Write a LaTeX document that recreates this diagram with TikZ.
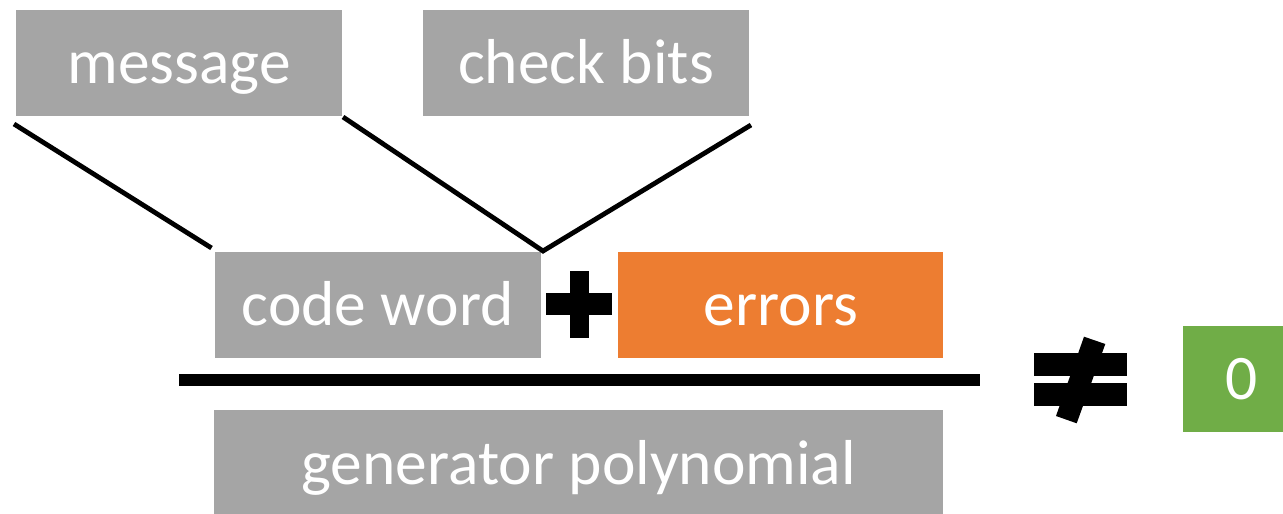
\documentclass[tikz,border=0pt]{standalone}
\usepackage{fontspec}
\setmainfont{Carlito}
\definecolor{boxgray}{HTML}{A5A5A5}
\definecolor{boxorange}{HTML}{ED7D31}
\definecolor{boxgreen}{HTML}{70AD47}
\begin{document}
\begin{tikzpicture}[x=0.75pt,y=-0.75pt,
  box/.style={rectangle, fill=boxgray, inner sep=0pt, text=white,
    font=\fontsize{47.6}{57}\selectfont,
    text height=55.5pt, text depth=24pt, align=center},
  conn/.style={line width=3.6pt, black},
  sym/.style={fill=black}]
\useasboundingbox (0,0) rectangle (1283,514);

% top boxes
\node[box, minimum width=244.5pt] (msg) at (179,62.5) {message};
\node[box, minimum width=244.5pt] (chk) at (586,62.5) {check bits};
% middle boxes
\node[box, minimum width=244.3pt] (cw) at (377.8,304.7) {code word};
\node[box, fill=boxorange, minimum width=243.8pt] (err) at (780.8,304.7) {errors};
% generator polynomial
\node[box, minimum width=546.4pt, text height=56.25pt, text depth=23.25pt] (gen) at (578.7,462.5) {generator polynomial};
% zero
\node[box, fill=boxgreen, minimum width=88pt, text height=55pt, text depth=24pt] (zero) at (1241.7,379) {0};

% connectors
\coordinate (m1) at (14,124);
\coordinate (m2) at (211.5,248);
\coordinate (c1) at (343,117);
\coordinate (c2) at (543,251);
\coordinate (c3) at (751,125);
\draw[conn] (m1) -- (m2);
\draw[conn, line join=miter] (c1) -- (c2) -- (c3);

% plus sign
\fill[sym] (545.7,293.3) rectangle (612.3,315);
\fill[sym] (570,270.7) rectangle (589,337.7);

% fraction bar
\coordinate (b1) at (179.4,380);
\coordinate (b2) at (980,380);
\draw[line width=9pt] (b1) -- (b2);

% not-equal sign
\fill[sym] (1034,353.3) rectangle (1126.7,375.7);
\fill[sym] (1034,383.3) rectangle (1126.7,406);
\fill[sym] (1084,336.7) -- (1105.3,344) -- (1076.7,423.3) -- (1056,416) -- cycle;
\end{tikzpicture}
\end{document}
